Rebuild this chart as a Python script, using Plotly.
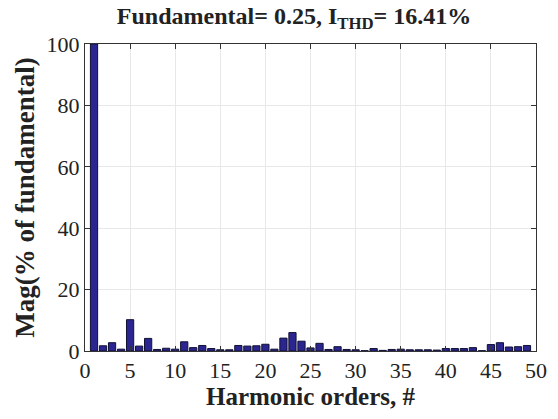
import plotly.graph_objects as go

harmonic_orders = list(range(1, 50))
magnitudes = [100, 1.7, 2.7, 0.6, 10.2, 1.6, 4.1, 0.5, 0.9, 0.6,
              3.0, 1.1, 1.8, 0.8, 0.4, 0.4, 1.8, 1.6, 1.7, 2.2,
              0.6, 4.2, 6.0, 3.2, 1.0, 2.5, 0.5, 1.4, 0.5, 0.4,
              0.1, 0.8, 0.2, 0.5, 0.6, 0.4, 0.4, 0.4, 0.3, 0.8,
              0.8, 0.8, 1.1, 0.1, 2.1, 2.7, 1.3, 1.4, 1.8]
x_ticks = list(range(0, 51, 5))
y_ticks = list(range(0, 101, 20))

font = "Liberation Serif"

fig = go.Figure(go.Bar(
    x=harmonic_orders, y=magnitudes, width=0.8,
    marker=dict(color="#2b2590", line=dict(color="#111133", width=1)),
))

fig.update_layout(
    width=558, height=419,
    margin=dict(l=85, r=11, t=44, b=68),
    paper_bgcolor="white", plot_bgcolor="white",
    showlegend=False,
    title=dict(text="<b>Fundamental= 0.25, I<sub>THD</sub>= 16.41%</b>",
               x=0.527, xanchor="center", y=0.982, yanchor="top",
               font=dict(family=font, size=24, color="#222")),
    font=dict(family=font, color="#222"),
)
axis_common = dict(
    showline=True, linecolor="#333", linewidth=1, mirror="allticks",
    ticks="inside", ticklen=5, tickcolor="#333",
    showgrid=True, gridcolor="#e8e8e8", gridwidth=1, zeroline=False,
    tickfont=dict(family=font, size=22, color="#222"),
)
fig.update_xaxes(range=[0, 50], tickvals=x_ticks,
                 title=dict(text="<b>Harmonic orders, #</b>", standoff=2,
                            font=dict(family=font, size=25, color="#222")),
                 tickprefix="<b>", ticksuffix="</b>", **axis_common)
fig.update_yaxes(range=[0, 100], tickvals=y_ticks,
                 title=dict(text="<b>Mag(% of fundamental)</b>", standoff=4,
                            font=dict(family=font, size=27, color="#222")),
                 tickprefix="<b>", ticksuffix="</b>", **axis_common)

fig.write_html("out.html")
